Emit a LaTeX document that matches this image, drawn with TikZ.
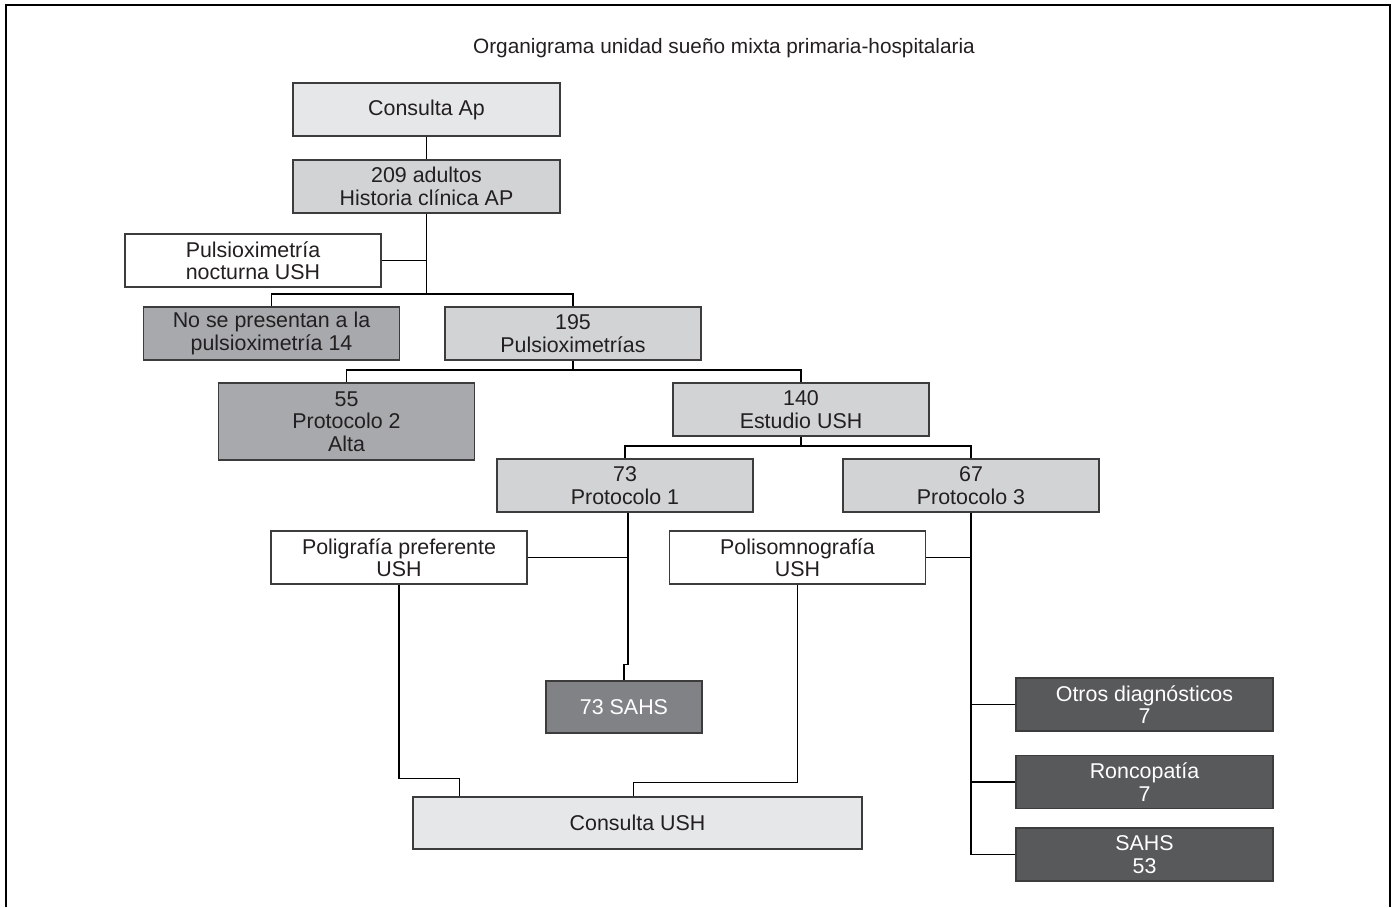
\documentclass[tikz,border=0pt]{standalone}
\usepackage{fontspec}
\setmainfont{Liberation Sans}
\usetikzlibrary{calc, positioning}
\definecolor{grisA}{HTML}{E6E7E8}
\definecolor{grisB}{HTML}{D1D3D4}
\definecolor{grisC}{HTML}{A7A9AC}
\definecolor{grisD}{HTML}{808285}
\definecolor{grisE}{HTML}{58595B}
\definecolor{borde}{HTML}{3C3C3C}
\definecolor{texto}{HTML}{231F20}

\begin{document}
\begin{tikzpicture}[x=0.5bp, y=-0.5bp, line width=0.6bp,
    font=\fontsize{10.7bp}{11.2bp}\selectfont, text=texto,
    caja/.style={draw=borde, inner sep=0pt, minimum width=128bp, minimum height=26.5bp, align=center},
    oscura/.style={caja, text=white}]
    \useasboundingbox (0,0) rectangle (1393,907);
    \draw (6,907) -- (6,5) -- (1390,5) -- (1390,907);
    \node[font=\fontsize{10.4bp}{11bp}\selectfont] (titulo) at (724,48) {Organigrama unidad sueño mixta primaria-hospitalaria};

    \node[caja, fill=grisA, minimum width=133.5bp] (ap)  at (426.5,109.5) {Consulta Ap};
    \node[caja, fill=grisB, minimum width=133.5bp] (adu) at (426.5,186.5) {209 adultos\\Historia clínica AP};
    \node[caja, fill=white] (pulsi) at (253,260.5)   {Pulsioximetría\\nocturna USH};
    \node[caja, fill=grisC] (nose)  at (271.5,333.5) {No se presentan a la\\pulsioximetría 14};
    \node[caja, fill=grisB] (p195)  at (573,333.5)   {195\\Pulsioximetrías};
    \node[caja, fill=grisC, minimum height=38.5bp] (p55) at (346.5,421.5) {55\\Protocolo 2\\Alta};
    \node[caja, fill=grisB] (e140)  at (801,409.5)   {140\\Estudio USH};
    \node[caja, fill=grisB] (p73)   at (625,485.5)   {73\\Protocolo 1};
    \node[caja, fill=grisB] (p67)   at (971,485.5)   {67\\Protocolo 3};
    \node[caja, fill=white] (poli)  at (399,557.5)   {Poligrafía preferente\\USH};
    \node[caja, fill=white] (psg)   at (797.5,557.5) {Polisomnografía\\USH};
    \node[oscura, fill=grisD, minimum width=78bp, minimum height=26bp] (s73) at (624,707) {73 SAHS};
    \node[oscura, fill=grisE, minimum width=128.5bp] (otros) at (1144.5,704.5) {Otros diagnósticos\\7};
    \node[oscura, fill=grisE, minimum width=128.5bp] (ronco) at (1144.5,782)   {Roncopatía\\7};
    \node[oscura, fill=grisE, minimum width=128.5bp] (sahs)  at (1144.5,854.5) {SAHS\\53};
    \node[caja, fill=grisA, minimum width=224.5bp, minimum height=26bp] (cusu) at (637.5,823) {Consulta USH};

    \coordinate (b1) at (adu.south |- 0,294);
    \coordinate (b2) at (p195.south |- 0,370);
    \coordinate (b3) at (e140.south |- 0,446);
    \coordinate (k73) at ([xshift=1.5bp]p73.south);

    \draw (ap) -- (adu);
    \draw (adu) -- (b1);
    \draw (pulsi.east) -- (pulsi.east -| b1);
    \draw (nose.north) |- (b1) -| (p195.north);
    \draw (p195) -- (b2);
    \draw (p55.north) |- (b2) -| (e140.north);
    \draw (e140) -- (b3);
    \draw (p73.north) |- (b3) -| (p67.north);
    \draw (k73) -- ++(0,152) -| (s73.north);
    \draw (poli.east) -- (poli.east -| k73);
    \draw (psg.east) -- (psg.east -| p67.south);
    \draw (p67.south) |- (sahs.west);
    \foreach \n in {otros, ronco} \draw (p67.south |- \n.west) -- (\n.west);
    \draw (poli.south) -- ++(0,194) -| ([xshift=-89bp]cusu.north);
    \draw (psg.south) -- ++(0,198) -| ([xshift=-2bp]cusu.north);
  \end{tikzpicture}
\end{document}
